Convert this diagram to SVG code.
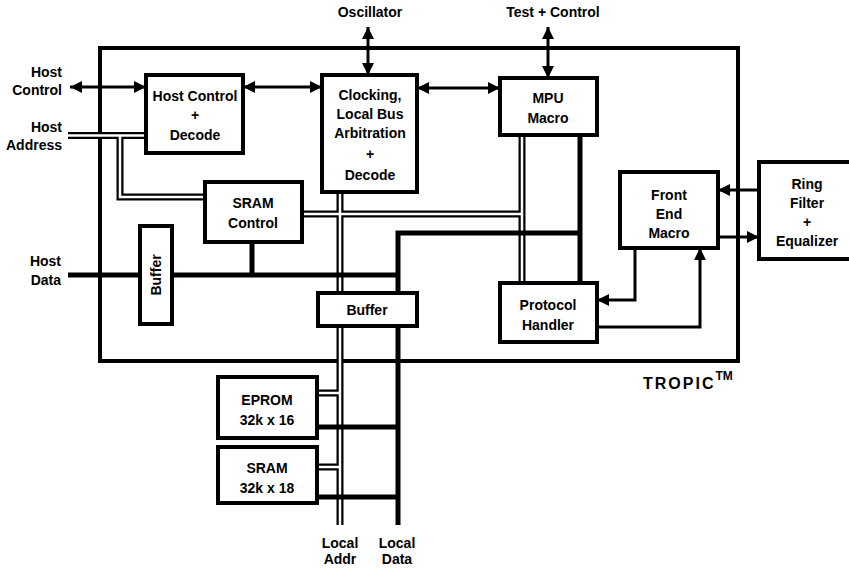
<svg xmlns="http://www.w3.org/2000/svg" width="849" height="569" viewBox="0 0 849 569">
<style>
.box{fill:#fff;stroke:#000;stroke-width:4}
.dblk{fill:none;stroke:#000;stroke-width:7}
.dwht{fill:none;stroke:#fff;stroke-width:2.5}
.bus{fill:none;stroke:#000;stroke-width:5}
.arr{fill:none;stroke:#000;stroke-width:3}
text{font-family:"Liberation Sans",Arial,sans-serif;font-weight:bold;font-size:14px;fill:#000}
.c{text-anchor:middle}
.r{text-anchor:end}
</style>
<defs>
<marker id="ah" viewBox="0 0 12 12" markerUnits="userSpaceOnUse" markerWidth="12" markerHeight="12" refX="12" refY="6" orient="auto-start-reverse">
<path d="M0,0 L12,6 L0,12 z" fill="#000"/>
</marker>
</defs>
<rect width="849" height="569" fill="#fff"/>
<g id="tropic-border">
<rect x="100" y="48" width="638" height="313" fill="none" stroke="#000" stroke-width="4"/>
</g>
<g id="connectors">
<g id="double-buses">
<path class="dblk" d="M68,135.5 H146 M120,135.5 V197 H205 M302,214 H522 M522,135 V283 M340,192 V525 M317,393 H340 M317,467 H340"/>
<path class="dwht" d="M68,135.5 H146 M120,135.5 V197 H205 M302,214 H522 M522,135 V283 M340,192 V525 M317,393 H340 M317,467 H340"/>
</g>
<g id="thick-buses">
<path class="bus" d="M68,275 H398 M252,242 V275 M398,293 V233 H580 M580,135 V283 M398,326 V525 M317,427 H398 M317,497 H398"/>
</g>
<g id="arrows">
<path class="arr" d="M70,87 H146" marker-start="url(#ah)" marker-end="url(#ah)"/>
<path class="arr" d="M243,87 H322" marker-start="url(#ah)" marker-end="url(#ah)"/>
<path class="arr" d="M417,88 H500" marker-start="url(#ah)" marker-end="url(#ah)"/>
<path class="arr" d="M368,27 V75" marker-start="url(#ah)" marker-end="url(#ah)"/>
<path class="arr" d="M548,27 V78" marker-start="url(#ah)" marker-end="url(#ah)"/>
<path class="arr" d="M759,190 H718" marker-end="url(#ah)"/>
<path class="arr" d="M718,237 H759" marker-end="url(#ah)"/>
<path class="arr" d="M635,248 V300 H597" marker-end="url(#ah)"/>
<path class="arr" d="M597,327 H700 V248" marker-end="url(#ah)"/>
</g>
</g>
<g id="host-control-decode">
<rect class="box" x="146" y="75" width="97" height="78"/>
<text class="c" x="195" y="101">Host Control</text>
<text class="c" x="195" y="120">+</text>
<text class="c" x="195" y="140">Decode</text>
</g>
<g id="clocking">
<rect class="box" x="322" y="75" width="95" height="117"/>
<text class="c" x="370" y="100">Clocking,</text>
<text class="c" x="370" y="119">Local Bus</text>
<text class="c" x="370" y="138">Arbitration</text>
<text class="c" x="370" y="159">+</text>
<text class="c" x="370" y="180">Decode</text>
</g>
<g id="mpu-macro">
<rect class="box" x="500" y="78" width="97" height="57"/>
<text class="c" x="548" y="103">MPU</text>
<text class="c" x="548" y="123">Macro</text>
</g>
<g id="sram-control">
<rect class="box" x="205" y="182" width="97" height="60"/>
<text class="c" x="253" y="208">SRAM</text>
<text class="c" x="253" y="228">Control</text>
</g>
<g id="buffer-host">
<rect class="box" x="140" y="226" width="32" height="98"/>
<text class="c" transform="translate(161,275) rotate(-90)" x="0" y="0">Buffer</text>
</g>
<g id="buffer-local">
<rect class="box" x="318" y="293" width="99" height="33"/>
<text class="c" x="367" y="315">Buffer</text>
</g>
<g id="front-end-macro">
<rect class="box" x="620" y="172" width="98" height="76"/>
<text class="c" x="669" y="200">Front</text>
<text class="c" x="669" y="219">End</text>
<text class="c" x="669" y="238">Macro</text>
</g>
<g id="ring-filter">
<rect class="box" x="759" y="162" width="96" height="97"/>
<text class="c" x="807" y="189">Ring</text>
<text class="c" x="807" y="208">Filter</text>
<text class="c" x="807" y="227">+</text>
<text class="c" x="807" y="246">Equalizer</text>
</g>
<g id="protocol-handler">
<rect class="box" x="500" y="283" width="97" height="59"/>
<text class="c" x="548" y="310">Protocol</text>
<text class="c" x="548" y="330">Handler</text>
</g>
<g id="eprom">
<rect class="box" x="218" y="377" width="99" height="61"/>
<text class="c" x="267" y="405">EPROM</text>
<text class="c" x="267" y="425">32k x 16</text>
</g>
<g id="sram">
<rect class="box" x="218" y="447" width="99" height="56"/>
<text class="c" x="267" y="473">SRAM</text>
<text class="c" x="267" y="493">32k x 18</text>
</g>
<g id="labels">
<text class="r" x="62" y="77">Host</text>
<text class="r" x="62" y="95">Control</text>
<text class="r" x="62" y="132">Host</text>
<text class="r" x="62" y="150">Address</text>
<text class="r" x="61" y="266">Host</text>
<text class="r" x="61" y="285">Data</text>
<text class="c" x="370" y="17">Oscillator</text>
<text class="c" x="553" y="17">Test + Control</text>
<text class="c" x="340" y="548">Local</text>
<text class="c" x="340" y="564">Addr</text>
<text class="c" x="397" y="548">Local</text>
<text class="c" x="397" y="564">Data</text>
<text x="643" y="389" style="font-size:16px;letter-spacing:2px">TROPIC<tspan dy="-9" style="font-size:12px;letter-spacing:0px">TM</tspan></text>
</g>
</svg>
